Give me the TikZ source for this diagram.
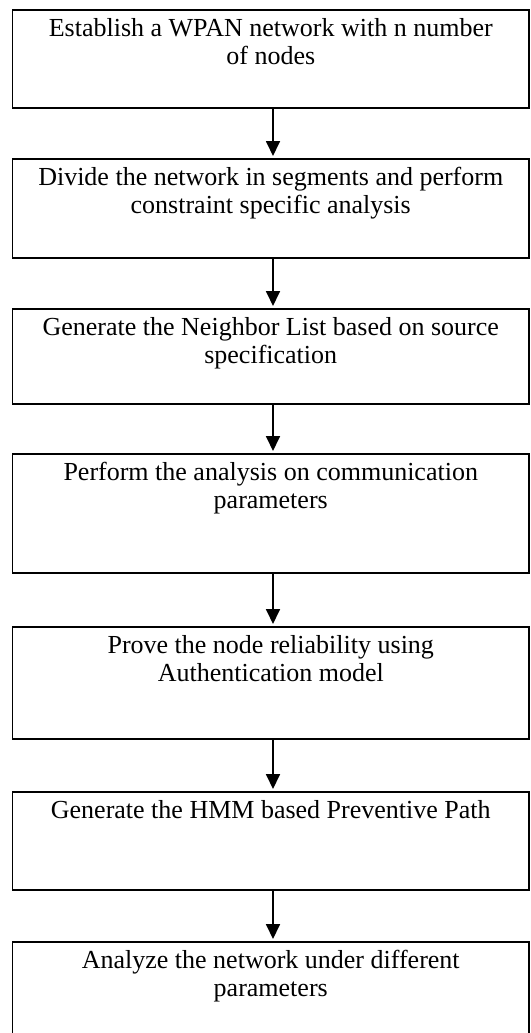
\documentclass[tikz,border=0pt]{standalone}
\usepackage{fontspec}
\setmainfont{Liberation Serif}
\usetikzlibrary{arrows.meta}
\begin{document}
\begin{tikzpicture}[x=1pt,y=-1pt,
  stepbox/.style={draw=black, line width=1.6pt, rectangle, inner sep=0pt,
    minimum width=516.5pt, anchor=north},
  steptext/.style={align=center, inner sep=0pt, anchor=north,
    font=\fontsize{26}{28}\selectfont},
  flow/.style={draw=black, line width=1.8pt,
    -{Triangle[length=15pt,width=14pt]}, shorten >=2pt}]
\useasboundingbox (0,0) rectangle (530,1033);

% process boxes, top edge and height of each
\node[stepbox, minimum height=98pt]  (s1) at (270.75,9)   {};
\node[stepbox, minimum height=99pt]  (s2) at (270.75,158) {};
\node[stepbox, minimum height=95pt]  (s3) at (270.75,308) {};
\node[stepbox, minimum height=119pt] (s4) at (270.75,453) {};
\node[stepbox, minimum height=112pt] (s5) at (270.75,626) {};
\node[stepbox, minimum height=98pt]  (s6) at (270.75,791) {};
\node[stepbox, minimum height=110pt] (s7) at (270.75,941) {};

% step captions, first baseline about 27pt below the box top
\node[steptext] (t1) at ([yshift=-7.5pt]s1.north) {\strut Establish a WPAN network with n number\\of nodes};
\node[steptext] (t2) at ([yshift=-7.5pt]s2.north) {\strut Divide the network in segments and perform\\constraint specific analysis};
\node[steptext] (t3) at ([yshift=-7.5pt]s3.north) {\strut Generate the Neighbor List based on source\\specification};
\node[steptext] (t4) at ([yshift=-7.5pt]s4.north) {\strut Perform the analysis on communication\\parameters};
\node[steptext] (t5) at ([yshift=-7.5pt]s5.north) {\strut Prove the node reliability using\\Authentication model};
\node[steptext] (t6) at ([yshift=-7.5pt]s6.north) {\strut Generate the HMM based Preventive Path};
\node[steptext] (t7) at ([yshift=-7.5pt]s7.north) {\strut Analyze the network under different\\parameters};

% arrows run down a common vertical line
\coordinate (ax) at (273,0);
\draw[flow] (s1.south -| ax) -- (s2.north -| ax);
\draw[flow] (s2.south -| ax) -- (s3.north -| ax);
\draw[flow] (s3.south -| ax) -- (s4.north -| ax);
\draw[flow] (s4.south -| ax) -- (s5.north -| ax);
\draw[flow] (s5.south -| ax) -- (s6.north -| ax);
\draw[flow] (s6.south -| ax) -- (s7.north -| ax);
\end{tikzpicture}
\end{document}
